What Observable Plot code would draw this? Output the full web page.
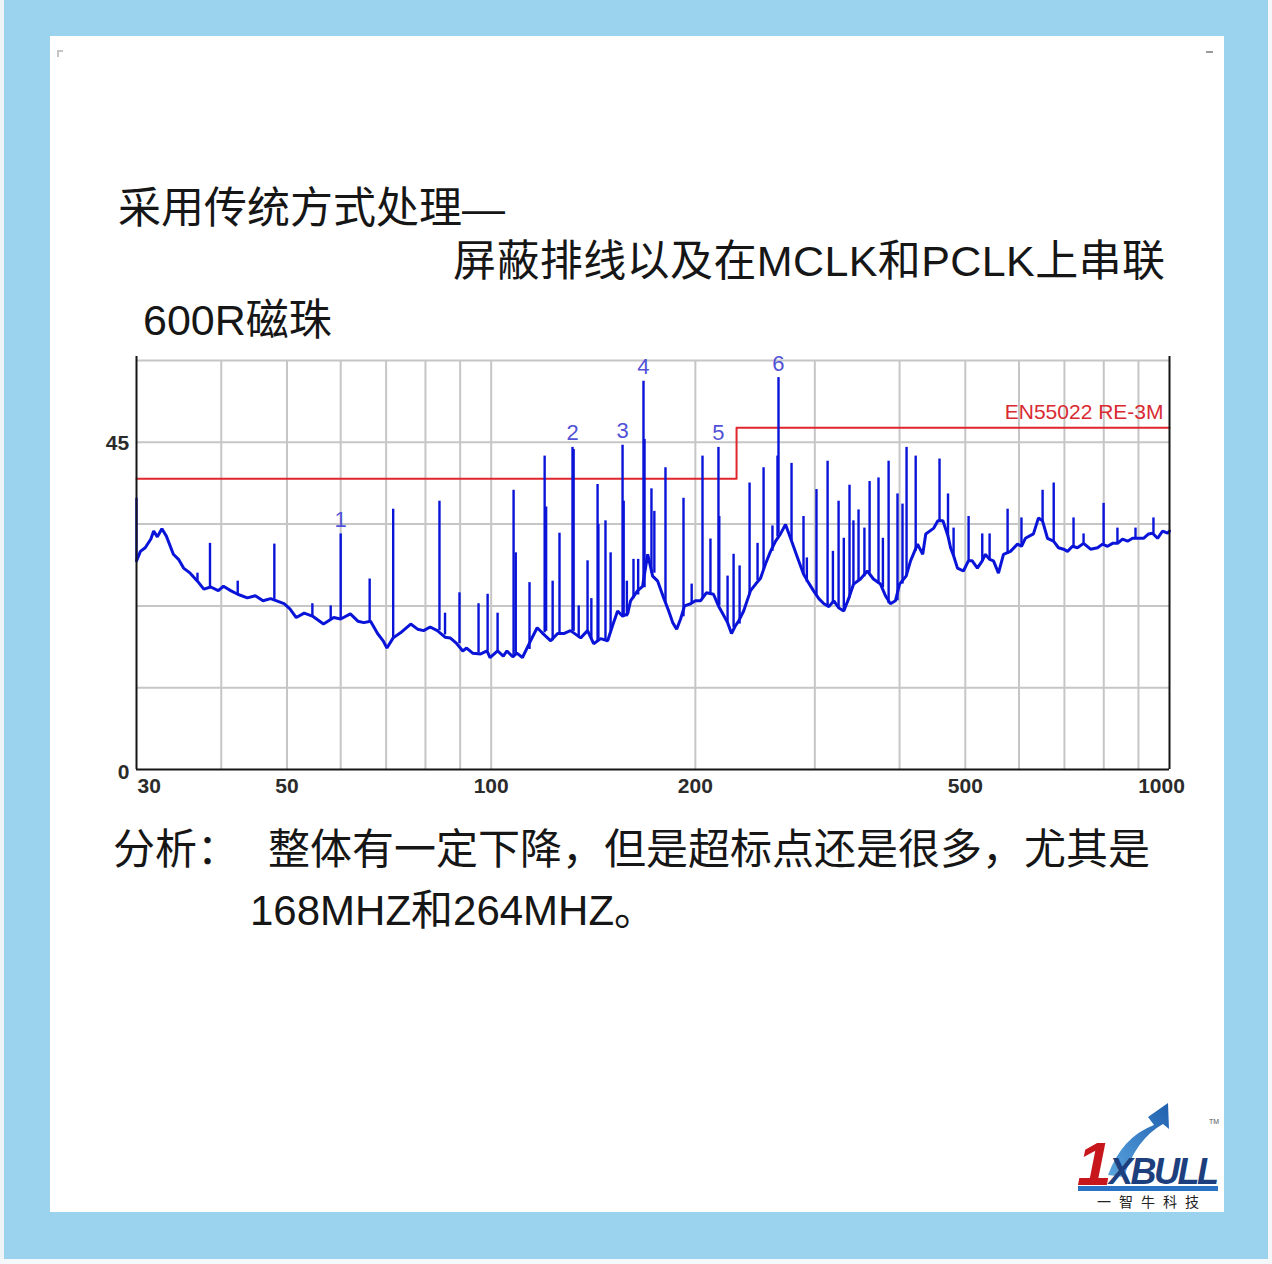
<!DOCTYPE html>
<html>
<head>
<meta charset="utf-8">
<script src="https://cdn.jsdelivr.net/npm/d3@7"></script>
<script src="https://cdn.jsdelivr.net/npm/@observablehq/plot@0.6"></script>
<style>
  html, body { margin: 0; padding: 0; }
  body { width: 1272px; height: 1264px; position: relative; background: #9bd3ee; overflow: hidden;
         font-family: "Liberation Sans", "Noto Sans CJK SC", sans-serif; }
  .panel { position: absolute; left: 50px; top: 36px; width: 1174px; height: 1176px; background: #fff; }
  .t { position: absolute; white-space: nowrap; color: #161616; line-height: 1; font-family: "Liberation Sans", "Noto Sans CJK SC", sans-serif; }
  #chart { position: absolute; left: 0; top: 340px; }
</style>
</head>
<body>
<div style="position:absolute;left:0;top:0;width:4px;height:1264px;background:#eef3f6"></div>
<div style="position:absolute;left:1268px;top:0;width:4px;height:1264px;background:#f4f8fa"></div>
<div style="position:absolute;left:0;top:1259px;width:1272px;height:5px;background:#f4f8fa"></div>
<div class="panel"></div>
<div style="position:absolute;left:57px;top:50px;width:6px;height:2px;background:#c4c4c4"></div>
<div style="position:absolute;left:57px;top:50px;width:2px;height:7px;background:#c4c4c4"></div>
<div style="position:absolute;left:1206px;top:51px;width:7px;height:2px;background:#9a9a9a"></div>

<div class="t" style="left:118px;top:187px;font-size:43px;">采用传统方式处理—</div>
<div class="t" style="left:453px;top:240px;font-size:43px;letter-spacing:0.4px;">屏蔽排线以及在MCLK和PCLK上串联</div>
<div class="t" style="left:143px;top:299px;font-size:43px;">600R磁珠</div>

<div id="chart"></div>

<div class="t" style="left:113px;top:829px;font-size:42px;">分析：</div>
<div class="t" style="left:268px;top:829px;font-size:42px;">整体有一定下降，但是超标点还是很多，尤其是</div>
<div class="t" style="left:250px;top:890px;font-size:42px;">168MHZ和264MHZ。</div>

<svg style="position:absolute;left:1066px;top:1095px;overflow:visible" width="156" height="122" viewBox="0 0 156 122">
  <defs>
    <linearGradient id="ag" x1="0" y1="1" x2="1" y2="0">
      <stop offset="0" stop-color="#5aa6e0"/>
      <stop offset="1" stop-color="#1f5fae"/>
    </linearGradient>
  </defs>
  <path d="M 42,80 Q 56,42 88,30 L 82,22 L 102,8 L 103,34 L 97,29 Q 70,44 58,82 Z" fill="url(#ag)"/>
  <text x="11" y="90" font-family="Liberation Sans" font-weight="bold" font-style="italic" font-size="62" fill="#c8161d">1</text>
  <text x="43" y="89" font-family="Liberation Sans" font-weight="bold" font-style="italic" font-size="36" fill="#1d3f7e" letter-spacing="-2.5">XBULL</text>
  <rect x="12" y="91" width="140" height="5" fill="#2a73c4"/>
  <text x="31" y="112" font-family="Noto Sans CJK SC" font-size="14" fill="#222" letter-spacing="8">一智牛科技</text>
  <text x="143" y="29" font-family="Liberation Sans" font-size="7" fill="#555">TM</text>
</svg>

<script>
// ---- data ----
const baseFreq = [30.0,30.4,30.9,31.5,31.8,32.2,32.7,33.2,34.0,34.6,35.2,36.0,36.9,37.7,38.6,39.6,40.3,41.3,42.3,43.7,44.9,46.1,47.3,49.5,50.5,51.6,53.0,54.5,56.6,58.6,60.0,62.0,63.6,64.9,66.4,68.0,69.3,70.2,71.7,73.5,76.1,77.9,79.5,81.3,83.3,85.5,87.0,89.0,90.8,92.0,93.9,96.5,98.6,99.6,102.2,104.2,105.5,107.6,109.1,111.2,114.3,116.9,118.9,122.4,125.3,127.9,130.9,135.5,138.7,141.6,145.0,148.5,151.0,153.6,156.2,158.9,160.5,164.4,167.2,170.1,173.0,176.0,179.6,182.7,185.2,187.7,190.2,192.8,196.8,200.0,203.5,207.6,212.7,216.3,219.3,223.1,226.1,229.2,231.6,235.6,241.2,245.4,249.5,253.8,258.1,262.6,267.0,271.6,276.3,283.0,288.7,293.6,298.6,304.1,309.4,314.7,320.0,325.6,331.0,336.5,342.2,350.3,358.6,366.0,374.9,381.3,387.8,394.4,400.0,409.0,415.2,425.2,432.7,437.2,449.3,455.5,463.4,471.5,475.6,480.5,486.9,496.8,505.3,511.9,520.9,529.6,534.9,543.0,550.2,559.6,569.2,582.9,596.9,605.1,613.1,630.1,641.0,649.8,660.9,674.6,686.0,697.9,707.4,719.4,731.6,747.0,765.0,783.3,796.7,810.4,824.2,838.3,852.6,867.3,882.2,900.3,915.7,931.5,944.2,960.3,976.9,993.4,1000];
const baseLevel = [28.7,30.0,30.5,31.7,32.8,32.0,33.1,32.1,29.6,28.9,27.7,27.0,25.9,24.8,25.1,24.6,25.2,24.6,24.1,23.6,23.9,23.2,23.5,22.8,22.1,20.9,21.5,21.1,20.0,20.9,20.7,21.4,20.4,20.2,20.4,18.7,17.7,16.7,18.1,18.8,20.0,19.3,19.1,19.6,19.1,18.2,18.1,17.3,16.3,16.7,16.0,15.9,16.3,15.4,16.3,15.6,16.3,15.5,16.0,15.4,17.7,19.5,18.8,17.7,18.7,18.7,19.1,18.1,19.1,17.3,18.0,17.7,19.8,21.8,21.1,21.4,23.2,24.6,25.2,29.6,26.6,25.9,23.6,21.8,20.2,19.3,20.7,22.5,22.8,23.2,23.2,24.3,24.1,22.5,21.5,20.2,18.7,19.8,20.4,21.8,24.6,25.5,26.3,28.3,30.0,31.4,32.4,33.7,31.8,29.1,26.9,25.7,24.6,23.5,22.8,22.4,23.2,22.2,21.8,23.5,25.5,26.2,27.3,26.2,25.5,23.9,22.8,23.2,25.5,26.6,28.7,31.0,29.6,32.4,33.2,34.2,34.2,32.1,30.5,29.4,27.7,27.3,28.7,28.7,27.7,28.7,29.6,28.9,28.7,27.0,29.6,30.0,31.0,30.7,31.8,32.4,34.6,34.2,31.8,31.4,30.5,30.3,30.0,30.7,30.5,31.1,30.3,30.5,31.0,30.7,31.1,31.1,31.7,31.4,31.8,31.8,31.8,32.4,32.5,31.8,32.8,32.5,32.8];

const spikeFreq = [30.0,36.9,38.5,42.3,47.9,54.5,58.0,60.0,66.2,71.7,83.9,85.5,89.8,95.8,98.8,102.2,107.9,108.7,113.9,119.9,120.5,123.2,126.1,131.8,132.3,134.6,138.7,140.5,143.5,143.9,147.4,150.0,156.2,156.8,158.5,162.1,164.7,167.7,168.3,172.3,174.0,180.7,192.1,197.5,204.9,210.5,216.3,216.9,223.1,227.7,232.4,240.4,247.0,252.1,259.8,264.3,265.2,277.2,288.7,292.0,301.7,313.3,319.0,325.2,331.0,337.5,342.0,348.0,355.0,361.3,372.4,378.0,385.4,397.2,404.0,409.6,422.5,458.1,471.5,480.5,505.6,529.6,543.0,577.2,605.0,650.0,675.0,722.0,747.0,799.6,838.0,891.0,947.0];
const spikeBase = [28.7,25.9,25.1,24.0,23.4,21.0,20.5,20.7,20.4,18.1,19.1,18.5,17.3,16.0,16.3,16.3,15.5,16.0,16.5,18.8,19.0,17.7,18.7,19.1,19.0,18.1,19.1,18.0,17.5,18.0,17.7,19.0,21.1,21.0,21.0,23.5,24.0,25.2,25.0,27.0,27.0,23.0,21.0,22.8,23.5,24.0,22.5,22.5,20.2,19.5,20.0,24.0,26.0,27.5,30.0,32.0,32.4,31.5,26.9,25.7,24.0,22.5,23.0,22.2,21.8,23.5,25.5,26.0,26.5,27.0,25.5,25.0,22.8,23.2,25.5,26.6,30.0,34.2,32.0,29.4,28.7,28.7,28.9,29.6,30.7,34.0,31.4,30.7,31.1,31.0,31.1,31.8,32.4];
const spikePeak = [37.3,27.0,31.1,25.9,31.0,22.8,22.5,32.4,26.2,35.8,36.9,21.5,24.3,22.8,24.1,21.5,38.4,29.8,25.7,43.1,36.1,25.9,32.5,44.3,44.0,22.5,28.7,23.5,39.2,33.7,34.2,29.8,44.6,36.9,25.9,28.9,28.9,53.4,45.4,38.6,35.5,41.5,37.3,25.5,43.1,31.7,44.3,34.8,26.6,29.6,28.0,39.4,31.1,41.5,33.5,43.1,53.9,42.1,34.8,29.1,38.5,42.4,30.0,36.9,31.8,39.1,34.2,35.7,33.2,39.6,40.1,31.8,42.4,37.9,36.5,44.3,43.1,42.7,37.9,33.2,34.8,32.4,32.4,35.8,34.6,38.4,39.4,34.6,32.4,36.6,33.2,33.2,34.6];

const markerLabel = ["1","2","3","4","5","6"];
const markerFreq = [60.0,131.8,156.2,167.7,216.3,265.2];
const markerLevel = [32.4,44.3,44.6,53.4,44.3,53.9];

const limitFreq = [30,230,230,1000];
const limitLevel = [40,40,47,47];
const limitName = "EN55022 RE-3M";

const xGrid = [40,50,60,70,80,90,100,200,300,400,500,600,700,800,900];
const yGrid = [11.25,22.5,33.75,45,56.25];
const xTickLabels = [30,50,100,200,500,1000];
const yTickLabels = [0,45];

// ---- build ----
const base = baseFreq.map((f,i) => ({f, v: baseLevel[i]}));
const spikes = spikeFreq.map((f,i) => ({f, b: spikeBase[i], p: spikePeak[i]}));
const markers = markerFreq.map((f,i) => ({f, v: markerLevel[i], t: markerLabel[i]}));
const limit = limitFreq.map((f,i) => ({f, v: limitLevel[i]}));

const blue = "#0a14d8";
const axisFont = {fontFamily: "Liberation Sans", fontSize: 21, fontWeight: "bold", fill: "#2b2b2b"};

const plot = Plot.plot({
  width: 1220,
  height: 470,
  marginLeft: 136,
  marginRight: 51,
  marginTop: 20,
  marginBottom: 41,
  x: {type: "log", domain: [30, 1000], axis: null},
  y: {domain: [0, 56.25], axis: null},
  style: {background: "transparent", overflow: "visible"},
  marks: [
    Plot.ruleY(yGrid, {stroke: "#c6c6c6", strokeWidth: 2}),
    Plot.ruleX(xGrid, {y1: 0, y2: 56.25, stroke: "#c6c6c6", strokeWidth: 2}),
    Plot.line(limit, {x: "f", y: "v", stroke: "#e0262c", strokeWidth: 2}),
    Plot.text([limitName], {x: 1000, y: 47, text: d => d, textAnchor: "end", dx: -6, dy: -15,
      fill: "#d92a32", fontSize: 21, fontFamily: "Liberation Sans"}),
    Plot.line(base, {x: "f", y: "v", stroke: blue, strokeWidth: 3, strokeLinejoin: "miter"}),
    Plot.ruleX(spikes, {x: "f", y1: "b", y2: "p", stroke: blue, strokeWidth: 2.4}),
    Plot.text(markers, {x: "f", y: "v", text: "t", dy: -14, fill: "#5252d6", fontSize: 22, fontFamily: "Liberation Sans"}),
    Plot.ruleX([30, 1000], {y1: 0, y2: 56.8, stroke: "#151515", strokeWidth: 2}),
    Plot.ruleY([0], {stroke: "#151515", strokeWidth: 2}),
    Plot.text(xTickLabels.filter(d => d === 30), {x: d => d, y: 0, text: d => String(d), dy: 17, dx: 1, textAnchor: "start", ...axisFont}),
    Plot.text(xTickLabels.filter(d => d > 30 && d < 1000), {x: d => d, y: 0, text: d => String(d), dy: 17, ...axisFont}),
    Plot.text(xTickLabels.filter(d => d === 1000), {x: d => d, y: 0, text: d => String(d), dy: 17, dx: -8, ...axisFont}),
    Plot.text(yTickLabels.filter(d => d === 45), {x: 30, y: d => d, text: d => String(d), dx: -19, dy: 1, ...axisFont}),
    Plot.text(yTickLabels.filter(d => d === 0), {x: 30, y: d => d, text: d => String(d), dx: -13, dy: 3, ...axisFont})
  ]
});
document.getElementById("chart").appendChild(plot);
</script>
</body>
</html>
